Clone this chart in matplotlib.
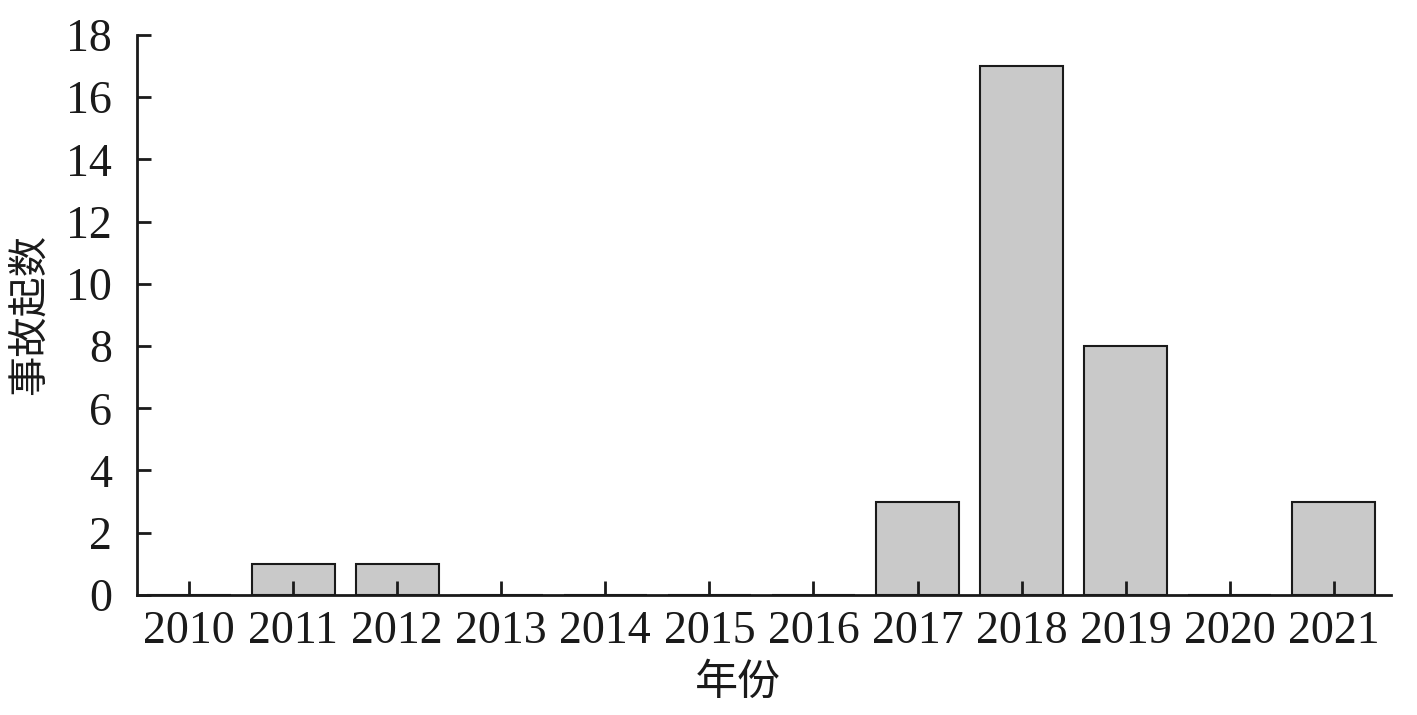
import matplotlib
matplotlib.use("Agg")
import matplotlib.pyplot as plt

years = ["2010", "2011", "2012", "2013", "2014", "2015", "2016",
         "2017", "2018", "2019", "2020", "2021"]
counts = [0, 1, 1, 0, 0, 0, 0, 3, 17, 8, 0, 3]
y_ticks = [0, 2, 4, 6, 8, 10, 12, 14, 16, 18]

plt.rcParams['font.family'] = ['Liberation Serif', 'Noto Sans CJK SC']

fig = plt.figure(figsize=(14.17, 7.15), dpi=100)
ax = fig.add_axes([0.0967, 0.168, 0.885, 0.783])

x = range(len(years))
ax.bar(x, counts, width=0.8, color="#c9c9c9", edgecolor="#1a1a1a", linewidth=1.5)

ax.set_xlim(-0.5, len(years) - 0.45)
ax.set_ylim(0, 18)
ax.set_xticks(list(x))
ax.set_xticklabels(years)
ax.set_yticks(y_ticks)

for side in ("top", "right"):
    ax.spines[side].set_visible(False)
for side in ("left", "bottom"):
    ax.spines[side].set_linewidth(2)
    ax.spines[side].set_color("#1a1a1a")

ax.tick_params(direction="in", length=10, width=2, labelsize=33,
               color="#1a1a1a", labelcolor="#1a1a1a")
ax.tick_params(axis="x", pad=11)
ax.tick_params(axis="y", pad=18)

ax.set_xlabel("年份", fontsize=31, family=['Noto Sans CJK SC'], color="#1a1a1a")
ax.set_ylabel("事故起数", fontsize=29, family=['Noto Sans CJK SC'], color="#1a1a1a")
ax.xaxis.set_label_coords(0.479, -0.118)
ax.yaxis.set_label_coords(-0.07, 0.5)

fig.savefig("out.png", dpi=100)
